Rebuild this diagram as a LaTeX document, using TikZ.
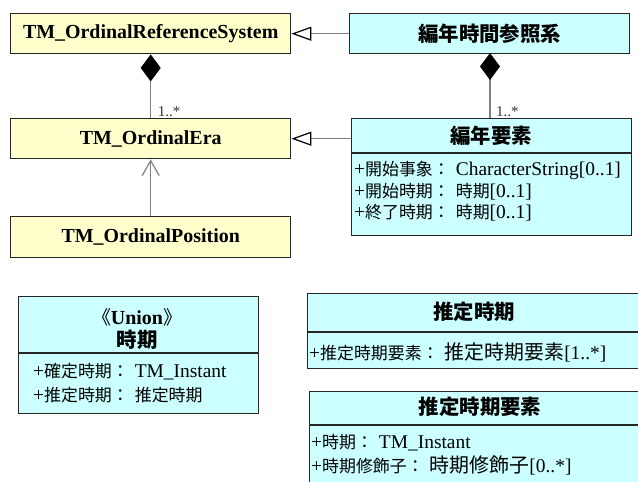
\documentclass[tikz,border=0pt]{standalone}
\usepackage{fontspec}
\setmainfont{Liberation Serif}
\newfontfamily\cjk{Noto Sans CJK JP}
\usetikzlibrary{arrows.meta}
\definecolor{ylw}{HTML}{FFFFCC}
\definecolor{cyn}{HTML}{CCFFFF}
\definecolor{edgegray}{HTML}{808080}
\newcommand\ja[1]{{\cjk\fontsize{17}{22}\selectfont #1}}
\newcommand\jt[1]{{\cjk\fontsize{20}{22}\selectfont #1}}
\newcommand\jh[1]{{\cjk\bfseries\fontsize{20.5}{24}\selectfont #1}}
\newcommand\sep{\hspace{6bp}}
\tikzset{
  cls/.style={draw=black!85, line width=1.4bp, inner sep=0pt, anchor=north west},
  ybox/.style={cls, fill=ylw},
  cbox/.style={cls, fill=cyn},
  divider/.style={draw=black!85, line width=1.1bp},
  title/.style={inner sep=0pt, font=\fontsize{20}{22}\selectfont\bfseries},
  attr/.style={inner sep=0pt, anchor=west, font=\fontsize{19.5}{22}\selectfont},
  mult/.style={inner sep=0pt, anchor=south west, font=\fontsize{15}{18}\selectfont, text=black!80},
  conn/.style={draw=edgegray, line width=1.2bp},
  comp/.style={conn, {Diamond[length=27bp,width=20bp,color=black,fill=black]}-},
  gen/.style={conn, -{Triangle[open,length=20bp,width=14bp,color=black,fill=white,line width=1.2bp]}},
  nav/.style={conn, -{Straight Barb[length=15bp,width=17bp,line width=1.2bp]}}
}
\begin{document}
\begin{tikzpicture}[x=1bp,y=-1bp]
\useasboundingbox (0,0) rectangle (638,482);
\clip (0,0) rectangle (638,482);
\fill[white] (0,0) rectangle (638,482);

% left column
\node[ybox, minimum width=280bp, minimum height=40bp] (ors) at (10,13) {};
\node[title] (orsT) at (ors.center) {TM\_OrdinalReferenceSystem};
\node[ybox, minimum width=280bp, minimum height=40bp] (era) at (10,118) {};
\node[title] (eraT) at (era.center) {TM\_OrdinalEra};
\node[ybox, minimum width=280bp, minimum height=41bp] (pos) at (10,216) {};
\node[title] (posT) at (pos.center) {TM\_OrdinalPosition};

% right column
\node[cbox, minimum width=280bp, minimum height=40bp] (jrs) at (349,13) {};
\node[inner sep=0pt] (jrsT) at (jrs.center) {\jh{編年時間参照系}};
\node[cbox, minimum width=280bp, minimum height=117bp] (je) at (351,118) {};
\draw[divider] (351,153) -- (631,153);
\node[inner sep=0pt] (jeT) at (491,136) {\jh{編年要素}};
\node[attr] (je1) at (354,170) {+\ja{開始事象：}\sep CharacterString[0..1]};
\node[attr] (je2) at (354,192) {+\ja{開始時期：}\sep\ja{時期}[0..1]};
\node[attr] (je3) at (354,213) {+\ja{終了時期：}\sep\ja{時期}[0..1]};

% connectors
\draw[comp] (ors.south) -- (era.north);
\node[mult] (m1) at ([xshift=7bp,yshift=1bp]era.north) {1..*};
\draw[comp] (490,53) -- (490,118);
\node[mult] (m2) at (496,117) {1..*};
\draw[gen] (jrs.west) -- (ors.east);
\draw[gen] (era.east -| je.west) -- (era.east);
\draw[nav] (pos.north) -- (era.south);

% union 時期
\node[cbox, minimum width=240bp, minimum height=117bp] (un) at (18,296) {};
\draw[divider] (18,353) -- (258,353);
\node[inner sep=0pt] (unS) at (137,317) {{\cjk\fontsize{19}{22}\selectfont 《}{\fontsize{20}{22}\selectfont\bfseries Union}{\cjk\fontsize{19}{22}\selectfont 》}};
\node[inner sep=0pt] (unT) at (137,340) {\jh{時期}};
\node[attr] (un1) at (33,372) {+\ja{確定時期：}\sep TM\_Instant};
\node[attr] (un2) at (33,395) {+\ja{推定時期：}\sep\ja{推定時期}};

% 推定時期
\node[cbox, minimum width=334bp, minimum height=75bp] (st) at (307,293) {};
\draw[divider] (307,332) -- (641,332);
\node[inner sep=0pt] (stT) at (474,312) {\jh{推定時期}};
\node[attr] (st1) at (309,352) {+\ja{推定時期要素：}\sep\jt{推定時期要素}[1..*]};

% 推定時期要素
\node[cbox, minimum width=342bp, minimum height=110bp] (se) at (309,391) {};
\draw[divider] (309,425) -- (651,425);
\node[inner sep=0pt] (seT) at (480,407) {\jh{推定時期要素}};
\node[attr] (se1) at (311,443) {+\ja{時期：}\sep TM\_Instant};
\node[attr] (se2) at (311,465) {+\ja{時期修飾子：}\sep\jt{時期修飾子}[0..*]};
\end{tikzpicture}
\end{document}
